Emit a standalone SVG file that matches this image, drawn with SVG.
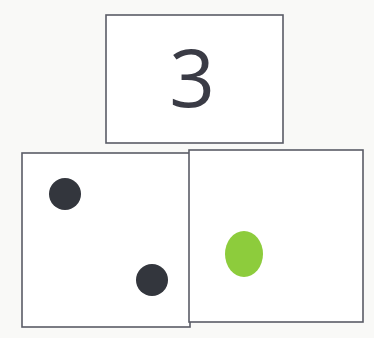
<svg xmlns="http://www.w3.org/2000/svg" width="374" height="338" viewBox="0 0 374 338">
<style>
.card{fill:#ffffff;stroke:#5a5c66;stroke-width:1.6}
.dot{fill:#33363d}
</style>
<rect width="374" height="338" fill="#f9f9f7"/>
<g id="card-number">
<rect class="card" x="106" y="15" width="177" height="128"/>
<text x="192" y="107" font-family="Open Sans, sans-serif" font-size="80" fill="#3a3b45" text-anchor="middle">3</text>
</g>
<g id="card-two-dots">
<rect class="card" x="22" y="153" width="168" height="174"/>
<circle class="dot" cx="65" cy="194" r="16"/>
<circle class="dot" cx="152" cy="280" r="16"/>
</g>
<g id="card-green-dot">
<rect class="card" x="189" y="150" width="174" height="172"/>
<ellipse cx="244" cy="254" rx="19" ry="23" fill="#8dcc3c"/>
</g>
<g id="connectors"/>
</svg>
